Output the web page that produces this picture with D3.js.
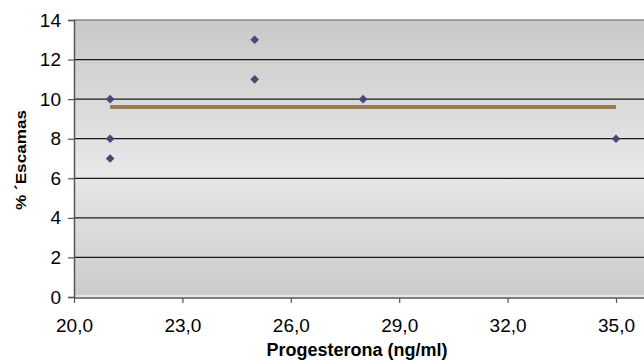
<!DOCTYPE html>
<html>
<head>
<meta charset="utf-8">
<script src="https://cdn.jsdelivr.net/npm/d3@7"></script>
<style>
  body { margin: 0; background: #fff; }
  svg { display: block; font-family: "Liberation Sans", Arial, sans-serif; }
</style>
</head>
<body>
<svg width="644" height="360"></svg>
<script>
// data
const progesterona = [21, 21, 21, 25, 25, 28, 35];
const escamas = [10, 8, 7, 13, 11, 10, 8];
const trendX = [21, 35];
const trendY = [9.6, 9.6];
const xTicks = [20, 23, 26, 29, 32, 35];
const yTicks = [0, 2, 4, 6, 8, 10, 12, 14];

const plotLeft = 74, plotRight = 644, plotTop = 20, plotBottom = 297;

const svg = d3.select('svg');

const xScale = d3.scaleLinear()
  .domain([20, 35])
  .range([plotLeft, 616]);

const yScale = d3.scaleLinear()
  .domain([0, 14])
  .range([plotBottom, plotTop]);

const defs = svg.append('defs');
const grad = defs.append('linearGradient')
  .attr('id', 'bg')
  .attr('x1', 0).attr('y1', 0).attr('x2', 0).attr('y2', 1);
grad.append('stop').attr('offset', '0%').attr('stop-color', '#c9c9c9');
grad.append('stop').attr('offset', '55%').attr('stop-color', '#e8e8e8');
grad.append('stop').attr('offset', '100%').attr('stop-color', '#cbcbcb');

svg.append('rect')
  .attr('x', plotLeft)
  .attr('y', plotTop)
  .attr('width', plotRight - plotLeft)
  .attr('height', plotBottom - plotTop)
  .attr('fill', 'url(#bg)');

// top border
svg.append('line')
  .attr('x1', plotLeft).attr('x2', plotRight)
  .attr('y1', plotTop).attr('y2', plotTop)
  .attr('stroke', '#8a8a8a')
  .attr('stroke-width', 1.5);

// gridlines
svg.append('g')
  .selectAll('line')
  .data(yTicks.filter(d => d > 0 && d < 14))
  .enter()
  .append('line')
  .attr('x1', plotLeft).attr('x2', plotRight)
  .attr('y1', d => yScale(d)).attr('y2', d => yScale(d))
  .attr('stroke', '#1a1a1a')
  .attr('stroke-width', 1.2);

// white line just above x axis
svg.append('line')
  .attr('x1', plotLeft).attr('x2', plotRight)
  .attr('y1', plotBottom - 1).attr('y2', plotBottom - 1)
  .attr('stroke', '#fff')
  .attr('stroke-width', 1.2);

// y axis
const yAxis = svg.append('g')
  .attr('transform', `translate(${plotLeft}, 0)`)
  .call(d3.axisLeft(yScale).tickValues(yTicks).tickSize(6).tickPadding(7));
yAxis.select('.domain').attr('stroke', '#555').attr('stroke-width', 1.5);
yAxis.selectAll('.tick line').attr('stroke', '#555').attr('stroke-width', 1.2);
yAxis.selectAll('text')
  .attr('fill', '#000')
  .style('font-size', '19px')
  .style('font-family', '"Liberation Sans", Arial, sans-serif');

// x axis
const xAxis = svg.append('g')
  .attr('transform', `translate(0, ${plotBottom + 1})`)
  .call(d3.axisBottom(xScale)
    .tickValues(xTicks)
    .tickSize(5)
    .tickPadding(16)
    .tickFormat(d => d3.format('.1f')(d).replace('.', ',')));
xAxis.select('.domain')
  .attr('d', `M${plotLeft},0H${plotRight}`)
  .attr('stroke', '#555').attr('stroke-width', 1.5);
xAxis.selectAll('.tick line').attr('stroke', '#555').attr('stroke-width', 1.2);
xAxis.selectAll('text')
  .attr('fill', '#000')
  .style('font-size', '19px')
  .style('font-family', '"Liberation Sans", Arial, sans-serif');

// trend line
svg.append('path')
  .datum(trendX.map((x, i) => [x, trendY[i]]))
  .attr('d', d3.line().x(d => xScale(d[0])).y(d => yScale(d[1])))
  .attr('stroke', '#9c7a4e')
  .attr('stroke-width', 4)
  .attr('fill', 'none');

// points
svg.append('g')
  .selectAll('path')
  .data(progesterona.map((x, i) => [x, escamas[i]]))
  .enter()
  .append('path')
  .attr('d', d3.symbol().type(d3.symbolDiamond2).size(48))
  .attr('transform', d => `translate(${xScale(d[0])}, ${yScale(d[1])})`)
  .attr('fill', '#4b4676');

// axis titles
svg.append('text')
  .attr('x', -160)
  .attr('y', 26)
  .attr('transform', 'rotate(-90)')
  .attr('text-anchor', 'middle')
  .attr('textLength', 100)
  .attr('lengthAdjust', 'spacingAndGlyphs')
  .style('font-size', '15px')
  .style('font-weight', 'bold')
  .text('% ´Escamas');

svg.append('text')
  .attr('x', 357)
  .attr('y', 356)
  .attr('text-anchor', 'middle')
  .style('font-size', '18px')
  .style('font-weight', 'bold')
  .text('Progesterona (ng/ml)');
</script>
</body>
</html>
